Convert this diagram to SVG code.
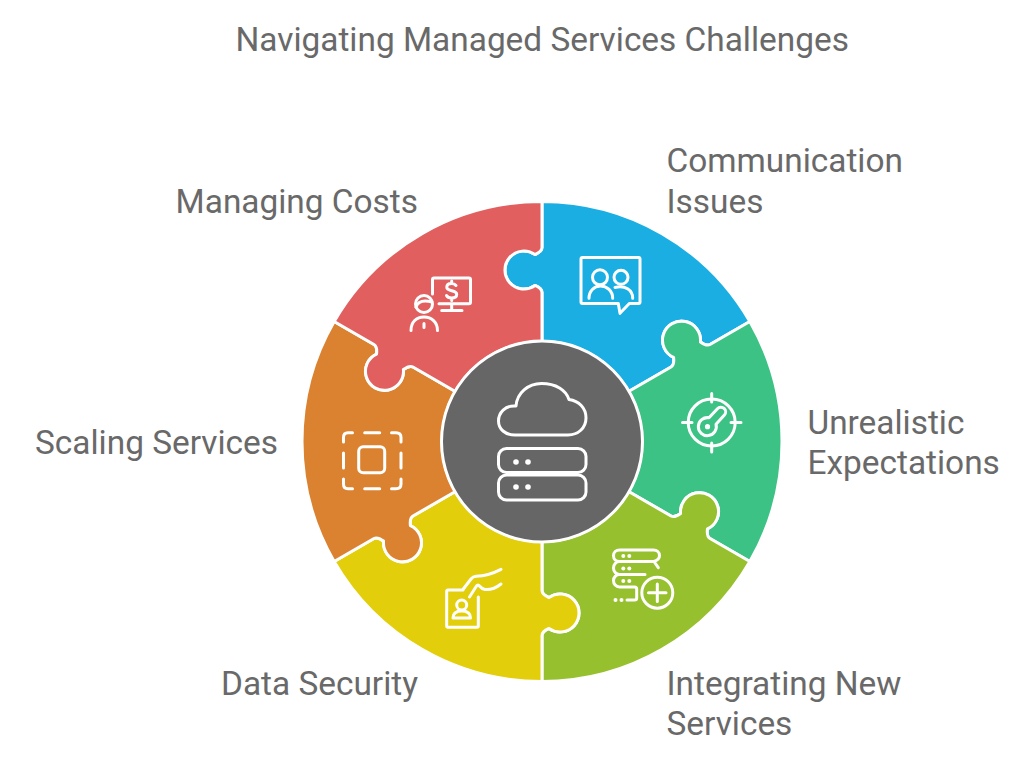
<svg xmlns="http://www.w3.org/2000/svg" xmlns:xlink="http://www.w3.org/1999/xlink" width="1024" height="763" viewBox="0 0 1024 763">
<style>
.t{font-family:Roboto,"Liberation Sans",sans-serif;font-size:33.4px;fill:#696969}
.p{stroke:#fff;stroke-width:3;stroke-linejoin:round}
.i{fill:none;stroke:#fff;stroke-width:3;stroke-linecap:round;stroke-linejoin:round}
.d{fill:#fff}
</style>
<defs>
<path id="piece" d="M0,-240A240,240 0 0 1 207.85,-120L168,-97Q164.5,-95 158.4,-99.6A19,19 0 1 0 131.6,-84.1Q132.5,-76.5 129,-74.500L86.6,-50A100,100 0 0 0 0,-100L0,-149Q0,-153 -7,-156A19,19 0 1 1 -7,-187Q0,-190 0,-194Z"/>
</defs>
<rect width="1024" height="763" fill="#fff"/>
<text id="title" class="t" x="235.500" y="51">Navigating Managed Services Challenges</text>
<g id="connectors"/>
<g id="node-communication">
<use xlink:href="#piece" href="#piece" class="p" fill="#1AAEE3" transform="translate(542 441.5)"/>
<path class="i" d="M582.5,257.5H638.5Q640,257.5 640,259V302Q640,303.5 638.5,303.5H629.3L620,313.3L618.3,303.5H582.5Q581,303.5 581,302V259Q581,257.5 582.5,257.5Z"/>
<circle class="i" cx="600" cy="277.3" r="7.5"/>
<path class="i" d="M589,298.3C589,291 594,286 600.5,286C607,286 612.7,291 612.7,298.3"/>
<circle class="i" cx="621" cy="277.3" r="7"/>
<path class="i" d="M615,287.5C625,285 632.7,290 632.7,298.3"/>
<text class="t" x="666.500" y="172">Communication</text>
<text class="t" x="666.500" y="213">Issues</text>
</g>
<g id="node-unrealistic">
<use xlink:href="#piece" href="#piece" class="p" fill="#3DC285" transform="translate(542 441.5) rotate(60)"/>
<circle class="i" cx="711.7" cy="422.5" r="23.5"/>
<path class="i" d="M711.7,393.5V402M711.7,443V452M682.5,422.5H692M731,422.5H741"/>
<path class="i" d="M709,417.8L717.4,408.7A4.7,4.7 0 0 1 724.4,415.1L716,424.2A9,9 0 1 1 709,417.8Z"/>
<circle class="d" cx="707.5" cy="426.7" r="2.6"/>
<text class="t" x="807.500" y="434">Unrealistic</text>
<text class="t" x="807.500" y="474">Expectations</text>
</g>
<g id="node-integrating">
<use xlink:href="#piece" href="#piece" class="p" fill="#96C02E" transform="translate(542 441.5) rotate(120)"/>
<path class="i" d="M658.3,567.7L654,561.5C658,560 659.5,558.5 659.5,555.7C659.5,552.5 657,550 653.5,550H619.5C616,550 613.5,552.5 613.5,555.7C613.5,559 616,561.5 619.5,561.5H654M619.5,561.5C616,561.5 613.5,564.5 613.5,568C613.5,571.5 616,574.5 619.5,574.5H645M619.5,574.5C616,574.5 613.5,577.5 613.5,580.5C613.5,584 616,587 619.5,587H634.5Q636.7,587 636.7,589V598Q636.7,600 634.5,600H627"/>
<circle class="d" cx="623.3" cy="556" r="2"/><circle class="d" cx="629.3" cy="556" r="2"/>
<circle class="d" cx="623.3" cy="568.5" r="2"/><circle class="d" cx="629.3" cy="568.5" r="2"/>
<circle class="d" cx="623.3" cy="581" r="2"/><circle class="d" cx="629.3" cy="581" r="2"/>
<circle class="d" cx="615.5" cy="600" r="2"/><circle class="d" cx="621.5" cy="600" r="2"/>
<circle class="i" cx="657.3" cy="592.7" r="15.5"/>
<path class="i" d="M648.5,592.7H666M657.3,584V601.5"/>
<text class="t" x="666.500" y="695">Integrating New</text>
<text class="t" x="666.500" y="735">Services</text>
</g>
<g id="node-security">
<use xlink:href="#piece" href="#piece" class="p" fill="#E3CE0B" transform="translate(542 441.5) rotate(180)"/>
<path class="i" d="M463,590H448Q446.7,590 446.7,591.5V626Q446.7,627.3 448,627.3H477Q478.3,627.3 478.3,626V597"/>
<circle class="i" cx="461.7" cy="605" r="5"/>
<path class="i" d="M453,618C453,612.5 456.5,611 461.7,611C467,611 470.5,612.5 470.5,618Z"/>
<path class="i" d="M463.3,589L471,579Q473,576.5 476,576.3C484,576 490,575 501,569.3"/>
<path class="i" d="M469.5,597L476.5,586Q478,584 479.5,586Q482,589 485,589.5C491,590 496,588 501,584"/>
<text class="t" text-anchor="end" x="418" y="695">Data Security</text>
</g>
<g id="node-scaling">
<use xlink:href="#piece" href="#piece" class="p" fill="#DB8230" transform="translate(542 441.5) rotate(240)"/>
<rect class="i" x="358.7" y="446.7" width="26" height="26" rx="4.5"/>
<path class="i" d="M343.5,442V437.5Q343.5,432.7 348,432.7H352.5M391.5,432.7H396Q401,432.7 401,437.5V442M343.5,479V484Q343.5,488.7 348,488.7H352.5M391.5,488.7H396Q401,488.7 401,484V479M364.7,432.7H379.7M364.7,488.7H379.7M343.5,453V468M401,453V468"/>
<text class="t" x="35" y="454">Scaling Services</text>
</g>
<g id="node-costs">
<use xlink:href="#piece" href="#piece" class="p" fill="#E25F5F" transform="translate(542 441.5) rotate(300)"/>
<path class="i" d="M432.5,294V279.5Q432.5,278 434,278H469Q470.5,278 470.5,279.5V302Q470.5,303.7 469,303.7H439M451.7,303.7V310M441.7,310.5H462"/>
<path class="i" d="M456,285.5Q454.5,283.5 451.5,283.5C448,283.5 446.8,285.5 446.8,287.3C446.8,292 456.7,289.5 456.7,294.3C456.7,296.3 455,298 451.5,298C449,298 447.3,297 446.5,295.5M451.7,281V283.5M451.7,298V300.5"/>
<circle class="i" cx="424" cy="304" r="8.5"/>
<path class="i" d="M416,307Q419,298.500 432,302"/>
<path class="i" d="M411,330.500C411,322 416.500,317 424,317C431.500,317 437.500,322 437.500,330.500M424,323.500V327.500"/>
<text class="t" text-anchor="end" x="418" y="213">Managing Costs</text>
</g>
<g id="node-center">
<circle cx="542" cy="441.5" r="100.500" fill="#666" stroke="#fff" stroke-width="3"/>
<path class="i" d="M515,435H568C578,435 586,428 586,418C586,408 579,401 569,399.500C566,390 556,383.500 541.500,383.500C528,383.500 517,393 516,406C505,405 498.500,413 498.500,421C498.500,429 505,435 515,435Z"/>
<rect class="i" x="498.500" y="448.500" width="87.500" height="24" rx="8"/>
<rect class="i" x="498.500" y="475" width="87.500" height="25" rx="8"/>
<circle class="d" cx="516" cy="462" r="2.800"/><circle class="d" cx="528" cy="462" r="2.800"/>
<circle class="d" cx="516" cy="487" r="2.800"/><circle class="d" cx="528" cy="487" r="2.800"/>
</g>
</svg>
